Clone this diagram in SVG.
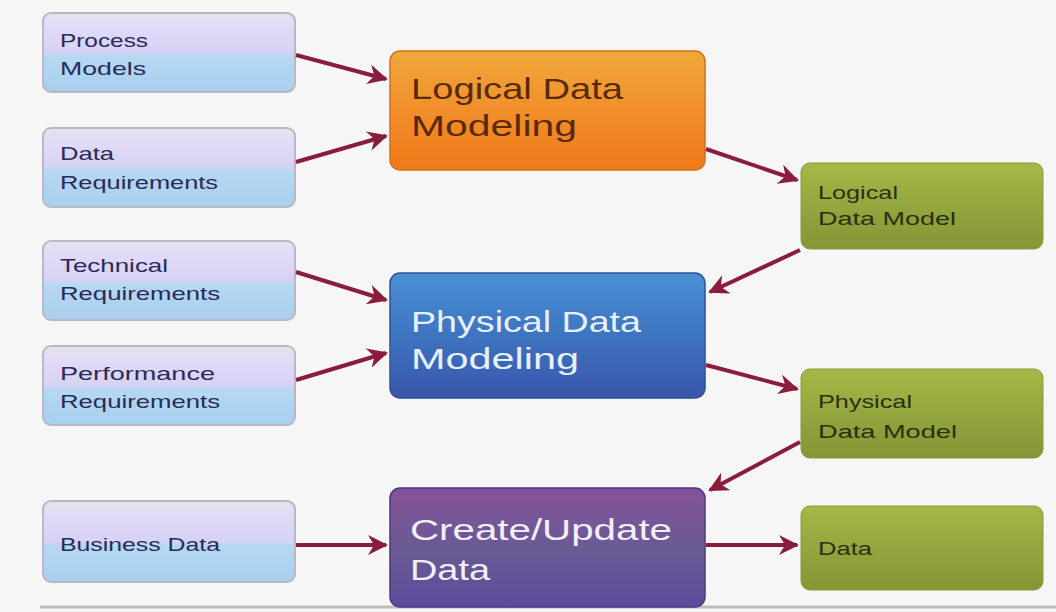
<svg xmlns="http://www.w3.org/2000/svg" width="1056" height="612" viewBox="0 0 1056 612">
<defs>
<linearGradient id="gLeft" x1="0" y1="0" x2="0" y2="1">
<stop offset="0" stop-color="#e4e4e4"/><stop offset="0.15" stop-color="#e2dcf8"/><stop offset="0.5" stop-color="#d6d2f4"/><stop offset="0.55" stop-color="#b6d8f2"/><stop offset="1" stop-color="#a8cfee"/>
</linearGradient>
<linearGradient id="gOrange" x1="0" y1="0" x2="0" y2="1">
<stop offset="0" stop-color="#f0a83a"/><stop offset="0.6" stop-color="#f28a28"/><stop offset="1" stop-color="#ee7a18"/>
</linearGradient>
<linearGradient id="gBlue" x1="0" y1="0" x2="0" y2="1">
<stop offset="0" stop-color="#4a90d4"/><stop offset="0.5" stop-color="#3d74c0"/><stop offset="1" stop-color="#3a56ac"/>
</linearGradient>
<linearGradient id="gPurple" x1="0" y1="0" x2="0" y2="1">
<stop offset="0" stop-color="#85529a"/><stop offset="0.5" stop-color="#6a5a94"/><stop offset="1" stop-color="#5e4c9c"/>
</linearGradient>
<linearGradient id="gGreen" x1="0" y1="0" x2="0" y2="1">
<stop offset="0" stop-color="#a6b846"/><stop offset="0.5" stop-color="#94a63e"/><stop offset="1" stop-color="#849636"/>
</linearGradient>
<marker id="arr" viewBox="0 0 10 10" refX="9" refY="5" markerWidth="5" markerHeight="5" orient="auto" markerUnits="strokeWidth">
<path d="M0,0 L10,5 L0,10 L3,5 Z" fill="#8a1c3c"/>
</marker>
</defs>
<style>
.left rect{fill:url(#gLeft);stroke:#b8b8c8;stroke-width:2}
text{font-family:"Liberation Sans",Arial,sans-serif}
.lt{font-size:19px;fill:#2a2a5a}
.ct{font-size:29px}
.rt{font-size:19px;fill:#2a3010}
.green rect{fill:url(#gGreen);stroke:#8a9a3a;stroke-width:1}
#connectors line{stroke:#8a1c3c;stroke-width:4;marker-end:url(#arr)}
</style>
<rect width="1056" height="612" fill="#f6f6f6"/>
<line x1="40" y1="607" x2="1056" y2="607" stroke="#bdbdbd" stroke-width="3"/>

<g id="process-models" class="left"><rect x="43" y="13" width="252" height="79" rx="8"/><text class="lt" x="60" y="47" textLength="88" lengthAdjust="spacingAndGlyphs">Process</text><text class="lt" x="60" y="75" textLength="86" lengthAdjust="spacingAndGlyphs">Models</text></g>
<g id="data-requirements" class="left"><rect x="43" y="128" width="252" height="79" rx="8"/><text class="lt" x="60" y="160" textLength="54" lengthAdjust="spacingAndGlyphs">Data</text><text class="lt" x="60" y="189" textLength="158" lengthAdjust="spacingAndGlyphs">Requirements</text></g>
<g id="technical-requirements" class="left"><rect x="43" y="241" width="252" height="79" rx="8"/><text class="lt" x="60" y="272" textLength="108" lengthAdjust="spacingAndGlyphs">Technical</text><text class="lt" x="60" y="300" textLength="160" lengthAdjust="spacingAndGlyphs">Requirements</text></g>
<g id="performance-requirements" class="left"><rect x="43" y="346" width="252" height="79" rx="8"/><text class="lt" x="60" y="380" textLength="155" lengthAdjust="spacingAndGlyphs">Performance</text><text class="lt" x="60" y="408" textLength="160" lengthAdjust="spacingAndGlyphs">Requirements</text></g>
<g id="business-data" class="left"><rect x="43" y="501" width="252" height="81" rx="8"/><text class="lt" x="60" y="551" textLength="160" lengthAdjust="spacingAndGlyphs">Business Data</text></g>

<g id="logical-data-modeling"><rect x="390" y="51" width="315" height="119" rx="10" fill="url(#gOrange)" stroke="#d0701a" stroke-width="1.5"/><text class="ct" x="411" y="99" fill="#5a2a08" textLength="212" lengthAdjust="spacingAndGlyphs">Logical Data</text><text class="ct" x="411" y="136" fill="#5a2a08" textLength="166" lengthAdjust="spacingAndGlyphs">Modeling</text></g>
<g id="physical-data-modeling"><rect x="390" y="273" width="315" height="125" rx="10" fill="url(#gBlue)" stroke="#2f4f9a" stroke-width="1.5"/><text class="ct" x="411" y="332" fill="#e8f0ff" textLength="230" lengthAdjust="spacingAndGlyphs">Physical Data</text><text class="ct" x="411" y="369" fill="#e8f0ff" textLength="168" lengthAdjust="spacingAndGlyphs">Modeling</text></g>
<g id="create-update-data"><rect x="390" y="488" width="315" height="119" rx="10" fill="url(#gPurple)" stroke="#4a3a7a" stroke-width="1.5"/><text class="ct" x="410" y="540" fill="#f2eefa" textLength="262" lengthAdjust="spacingAndGlyphs">Create/Update</text><text class="ct" x="410" y="580" fill="#f2eefa" textLength="80" lengthAdjust="spacingAndGlyphs">Data</text></g>

<g id="logical-data-model" class="green"><rect x="801" y="163" width="242" height="86" rx="9"/><text class="rt" x="818" y="199" textLength="80" lengthAdjust="spacingAndGlyphs">Logical</text><text class="rt" x="818" y="225" textLength="138" lengthAdjust="spacingAndGlyphs">Data Model</text></g>
<g id="physical-data-model" class="green"><rect x="801" y="369" width="242" height="89" rx="9"/><text class="rt" x="818" y="408" textLength="94" lengthAdjust="spacingAndGlyphs">Physical</text><text class="rt" x="818" y="438" textLength="139" lengthAdjust="spacingAndGlyphs">Data Model</text></g>
<g id="data" class="green"><rect x="801" y="506" width="242" height="84" rx="9"/><text class="rt" x="818" y="555" textLength="54" lengthAdjust="spacingAndGlyphs">Data</text></g>

<g id="connectors">
<line x1="296" y1="55" x2="386" y2="79"/>
<line x1="296" y1="162" x2="386" y2="136"/>
<line x1="296" y1="272" x2="386" y2="300"/>
<line x1="296" y1="380" x2="386" y2="353"/>
<line x1="296" y1="545" x2="386" y2="545"/>
<line x1="706" y1="149" x2="797" y2="180"/>
<line x1="800" y1="250" x2="710" y2="292"/>
<line x1="706" y1="365" x2="797" y2="389"/>
<line x1="800" y1="442" x2="710" y2="490"/>
<line x1="706" y1="545" x2="797" y2="545"/>
</g>
</svg>
